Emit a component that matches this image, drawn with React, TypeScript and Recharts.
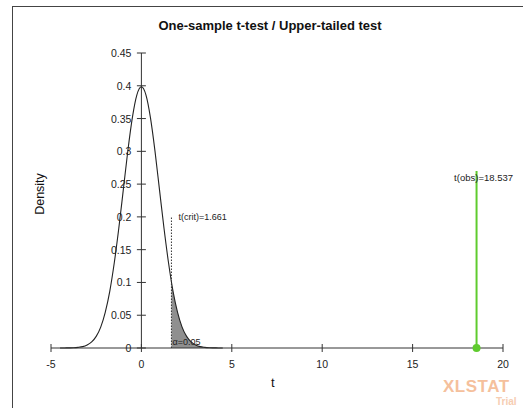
import {
  Area,
  Line,
  XAxis,
  YAxis,
  Scatter,
  ComposedChart,
  ReferenceLine,
} from 'recharts';

// ----------------------------------------------------------------------

const curveT = [
  -4.5, -4.25, -4, -3.75, -3.5, -3.25, -3, -2.75, -2.5, -2.25, -2, -1.75, -1.5, -1.25, -1, -0.75, -0.5, -0.25, 0,
  0.25, 0.5, 0.75, 1, 1.25, 1.5, 1.75, 2, 2.25, 2.5, 2.75, 3, 3.25, 3.5, 3.75, 4, 4.25, 4.5,
];
const curveDensity = [
  0.0, 0.0001, 0.0002, 0.0004, 0.001, 0.0021, 0.0047, 0.0093, 0.0177, 0.0319, 0.0545, 0.0865, 0.13, 0.1826, 0.2415,
  0.3008, 0.3515, 0.3862, 0.3985, 0.3862, 0.3515, 0.3008, 0.2415, 0.1826, 0.13, 0.0865, 0.0545, 0.0319, 0.0177,
  0.0093, 0.0047, 0.0021, 0.001, 0.0004, 0.0002, 0.0001, 0.0,
];

const tailT = [1.661, 1.75, 2, 2.25, 2.5, 2.75, 3, 3.25, 3.5, 3.75, 4, 4.25];
const tailDensity = [0.1008, 0.0865, 0.0545, 0.0319, 0.0177, 0.0093, 0.0047, 0.0021, 0.001, 0.0004, 0.0002, 0.0001];

const tCrit = 1.661;
const critTop = 0.2;
const tObs = 18.537;
const obsTop = 0.27;
const obsLabelLevel = 0.26;

const xTicks = [-5, 0, 5, 10, 15, 20];
const yTicks = [0, 0.05, 0.1, 0.15, 0.2, 0.25, 0.3, 0.35, 0.4, 0.45];
const yTickLabels = ['0', '0.05', '0.1', '0.15', '0.2', '0.25', '0.3', '0.35', '0.4', '0.45'];

const curveData = curveT.map((t, i) => ({ t, d: curveDensity[i] }));
const tailData = tailT.map((t, i) => ({ t, d: tailDensity[i] }));
const critLine = [
  { t: tCrit, d: 0 },
  { t: tCrit, d: critTop },
];
const obsLine = [
  { t: tObs, d: 0 },
  { t: tObs, d: obsTop },
];
const yTickData = yTicks.map((d, i) => ({ t: 0, d, label: yTickLabels[i] }));

const FONT = '"Liberation Sans", Arial, sans-serif';
const AXIS = '#333';
const GREEN = '#5fcb2e';

const XTick = ({ x, y, payload }: any) => (
  <g>
    <line x1={x} x2={x} y1={y - 4} y2={y + 4} stroke={AXIS} />
    <text x={x} y={y + 16} textAnchor='middle' dominantBaseline='central' fontSize={10.5} fontFamily={FONT} fill='#222'>
      {payload.value}
    </text>
  </g>
);

const YTickShape = ({ cx, cy, payload }: any) => (
  <g>
    <line x1={cx - 4.5} x2={cx + 4.5} y1={cy} y2={cy} stroke={AXIS} />
    <text x={cx - 10} y={cy} textAnchor='end' dominantBaseline='central' fontSize={10.5} fontFamily={FONT} fill='#222'>
      {payload.label}
    </text>
  </g>
);

const textShape = (text: string, dx: number, dy: number, anchor: string, size: number) =>
  ({ cx, cy }: any) => (
    <text x={cx + dx} y={cy + dy} textAnchor={anchor} dominantBaseline='central' fontSize={size} fontFamily={FONT} fill='#222'>
      {text}
    </text>
  );

export default function App() {
  return (
    <div style={{ position: 'absolute', left: 0, top: 0, width: 523, height: 408, background: '#fff', overflow: 'hidden' }}>
      <div
        style={{
          position: 'absolute',
          left: 12,
          top: 6,
          width: 511,
          height: 402,
          boxSizing: 'border-box',
          borderTop: '1.5px solid #444',
          borderLeft: '1.5px solid #444',
        }}
      />
      <ComposedChart width={523} height={408} margin={{ top: 53, right: 20, bottom: 30, left: 51 }}>
        <XAxis
          dataKey='t'
          type='number'
          domain={[-5, 20]}
          ticks={xTicks}
          height={30}
          tickSize={0}
          tickMargin={0}
          tick={<XTick />}
          axisLine={{ stroke: AXIS }}
          tickLine={false}
        />
        <YAxis hide type='number' dataKey='d' domain={[0, 0.45]} />
        <ReferenceLine x={0} stroke={AXIS} />
        <Area
          data={tailData}
          dataKey='d'
          type='monotone'
          stroke='none'
          fill='#8f8f8f'
          fillOpacity={1}
          isAnimationActive={false}
        />
        <Line data={curveData} dataKey='d' type='monotone' stroke='#222' strokeWidth={1.1} dot={false} isAnimationActive={false} />
        <Line
          data={critLine}
          dataKey='d'
          stroke='#333'
          strokeWidth={1}
          strokeDasharray='1.5 1.5'
          dot={false}
          isAnimationActive={false}
        />
        <Line data={obsLine} dataKey='d' stroke={GREEN} strokeWidth={2} dot={false} isAnimationActive={false} />
        <Scatter data={yTickData} dataKey='d' shape={<YTickShape />} isAnimationActive={false} />
        <Scatter
          data={[{ t: tObs, d: 0 }]}
          dataKey='d'
          shape={({ cx, cy }: any) => <circle cx={cx} cy={cy} r={4} fill={GREEN} />}
          isAnimationActive={false}
        />
        <Scatter
          data={[{ t: tCrit, d: critTop }]}
          dataKey='d'
          shape={textShape('t(crit)=1.661', 7, 0, 'start', 9)}
          isAnimationActive={false}
        />
        <Scatter
          data={[{ t: tCrit, d: 0 }]}
          dataKey='d'
          shape={textShape('α=0.05', 1, -6, 'start', 9)}
          isAnimationActive={false}
        />
        <Scatter
          data={[{ t: tObs, d: obsLabelLevel }]}
          dataKey='d'
          shape={textShape('t(obs)=18.537', 7, 0, 'middle', 9.5)}
          isAnimationActive={false}
        />
      </ComposedChart>
      <div
        style={{
          position: 'absolute',
          left: 0,
          width: 540,
          top: 18,
          textAlign: 'center',
          fontFamily: FONT,
          fontWeight: 'bold',
          fontSize: 13,
          color: '#111',
        }}
      >
        One-sample t-test / Upper-tailed test
      </div>
      <div
        style={{
          position: 'absolute',
          left: 40,
          top: 194,
          transform: 'translate(-50%, -50%) rotate(-90deg)',
          fontFamily: FONT,
          fontSize: 12.5,
          color: '#111',
          whiteSpace: 'nowrap',
        }}
      >
        Density
      </div>
      <div style={{ position: 'absolute', left: 271, top: 375, fontFamily: FONT, fontSize: 13, color: '#111' }}>t</div>
      <div
        style={{
          position: 'absolute',
          left: 443,
          top: 378,
          fontFamily: FONT,
          fontWeight: 'bold',
          fontSize: 17,
          lineHeight: '17px',
          color: '#f5c09c',
          whiteSpace: 'nowrap',
          letterSpacing: 0.5,
        }}
      >
        XLSTAT
      </div>
      <div
        style={{
          position: 'absolute',
          left: 496,
          top: 397,
          fontFamily: FONT,
          fontWeight: 'bold',
          fontSize: 10,
          lineHeight: '10px',
          color: '#f6cdb2',
          whiteSpace: 'nowrap',
        }}
      >
        Trial
      </div>
    </div>
  );
}
